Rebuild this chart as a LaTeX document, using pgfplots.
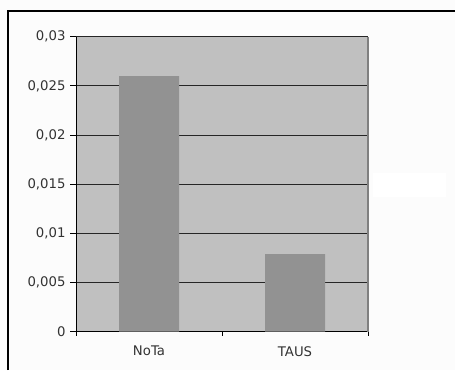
\documentclass[border=0pt]{standalone}
\usepackage{pgfplots}
\pgfplotsset{compat=1.18}
\usepackage{fontspec}
\setmainfont{DejaVu Sans}
\definecolor{plotbg}{HTML}{C0C0C0}
\definecolor{barc}{HTML}{929292}
\definecolor{pagebg}{HTML}{FCFCFC}
\begin{document}
\begin{tikzpicture}[x=1bp,y=1bp]
\useasboundingbox (0,0) rectangle (455,370);
\fill[pagebg] (0,0) rectangle (455,370);
\fill[white] (373,173) rectangle (446,197);
\draw[line width=1.3bp,black] (8,0) -- (8,359) -- (455,359);
\begin{axis}[
  at={(76bp,38.3bp)}, anchor=south west,
  scale only axis, width=292bp, height=295bp,
  ymin=0, ymax=0.03,
  xmin=-0.5, xmax=1.5,
  scaled y ticks=false,
  ytick={0,0.005,0.01,0.015,0.02,0.025,0.03},
  yticklabels={0,{0,005},{0,01},{0,015},{0,02},{0,025},{0,03}},
  xtick={0,1},
  xticklabels={NoTa,TAUS},
  minor xtick={-0.5,0.5,1.5},
  axis lines*=left,
  axis line style={black, line width=0.9bp},
  tick align=outside,
  major tick length=6bp,
  minor tick length=4bp,
  x tick style={draw=none},
  minor x tick style={draw=black, line width=0.9bp},
  y tick style={black, line width=0.9bp},
  ymajorgrids,
  grid style={black!85, line width=0.9bp},
  axis background/.style={fill=plotbg},
  tick label style={font=\fontsize{13.3}{15}\selectfont, text=black!80},
  yticklabel style={xshift=-1bp},
  xticklabel style={yshift=-5bp},
  ybar, bar width=60bp,
  clip=false,
]
\addplot[fill=barc, draw=none] coordinates {(0,0.026) (1,0.0079)};
\draw[gray, line width=1.5bp] (rel axis cs:1,0) -- (rel axis cs:1,1);
\end{axis}
\end{tikzpicture}
\end{document}
